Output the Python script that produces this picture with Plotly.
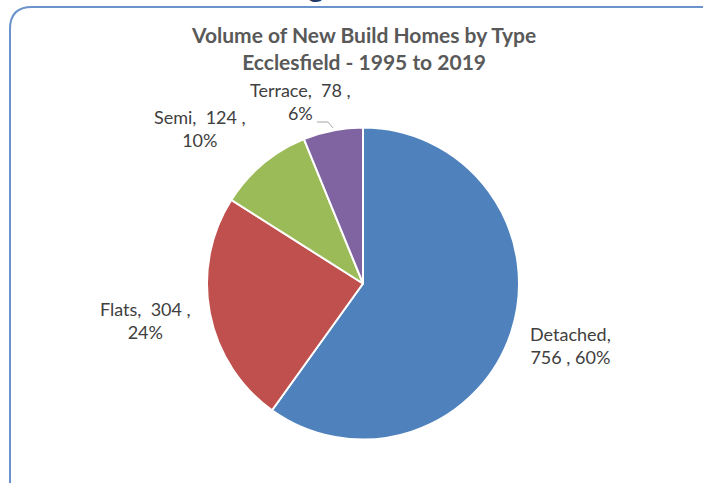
import plotly.graph_objects as go

# ---- data ----
categories = ["Detached", "Flats", "Semi", "Terrace"]
values = [756, 304, 124, 78]
title_lines = ["Volume of New Build Homes by Type", "Ecclesfield - 1995 to 2019"]

# ---- style ----
colors = ["#4F81BD", "#C0504D", "#9BBB59", "#8064A2"]
W, H = 703, 483
font = "Lato, 'Open Sans', sans-serif"

# label anchor centres in pixels (x, y from top) and line-break style
label_pos = [(570, 345), (145, 320), (200, 129), (300, 102)]
break_after_name = [True, False, False, False]

cx, cy, r = 363, 283.5, 156

fig = go.Figure(go.Pie(
    labels=categories, values=values, sort=False, direction="clockwise",
    rotation=0, marker=dict(colors=colors, line=dict(color="white", width=2)),
    textinfo="none", hoverinfo="label+value+percent", showlegend=False,
    domain=dict(x=[(cx - r) / W, (cx + r) / W], y=[(H - cy - r) / H, (H - cy + r) / H]),
))

total = sum(values)
annotations = []
for cat, v, (px, py), brk in zip(categories, values, label_pos, break_after_name):
    pct = round(100 * v / total)
    if brk:
        txt = f"{cat},<br>{v} , {pct}%"
    else:
        txt = f"{cat},  {v} ,<br>{pct}%"
    annotations.append(dict(
        x=px / W, y=1 - py / H, xref="paper", yref="paper", text=txt,
        showarrow=False, align="center", xanchor="center", yanchor="middle",
        font=dict(family=font, size=18, color="#404040"),
    ))

annotations.append(dict(
    x=363 / W, y=1 - 48.5 / H, xref="paper", yref="paper",
    text="<b>" + "<br>".join(title_lines) + "</b>", showarrow=False,
    xanchor="center", yanchor="middle", align="center",
    font=dict(family=font, size=21, color="#595959"),
))

# fragment of a heading above the chart (clipped by the canvas)
annotations.append(dict(
    x=316 / W, y=1 + 15 / H, xref="paper", yref="paper", text="<b>g</b>",
    showarrow=False, xanchor="center", yanchor="middle",
    font=dict(family=font, size=30, color="#1F3864"),
))

# rounded border frame
x0, y0, x1, y1, rc = 10, 7, 722, 540, 22
def P(x, y):
    return f"{x / W:.5f},{1 - y / H:.5f}"
path = (f"M {P(x1, y0 + rc)} Q {P(x1, y0)} {P(x1 - rc, y0)} "
        f"L {P(x0 + rc, y0)} Q {P(x0, y0)} {P(x0, y0 + rc)} "
        f"L {P(x0, y1 - rc)} Q {P(x0, y1)} {P(x0 + rc, y1)} L {P(x1, y1)}")

shapes = [
    dict(type="path", xref="paper", yref="paper", path=path,
         line=dict(color="#6A93CB", width=2)),
    # leader line for Terrace label
    dict(type="path", xref="paper", yref="paper",
         path=f"M {P(317, 122)} L {P(328, 122)} L {P(333, 128)}",
         line=dict(color="#A6A6A6", width=1)),
]

fig.update_layout(
    width=W, height=H, margin=dict(l=0, r=0, t=0, b=0),
    paper_bgcolor="white", plot_bgcolor="white",
    annotations=annotations, shapes=shapes,
)

fig.write_html("out.html")
